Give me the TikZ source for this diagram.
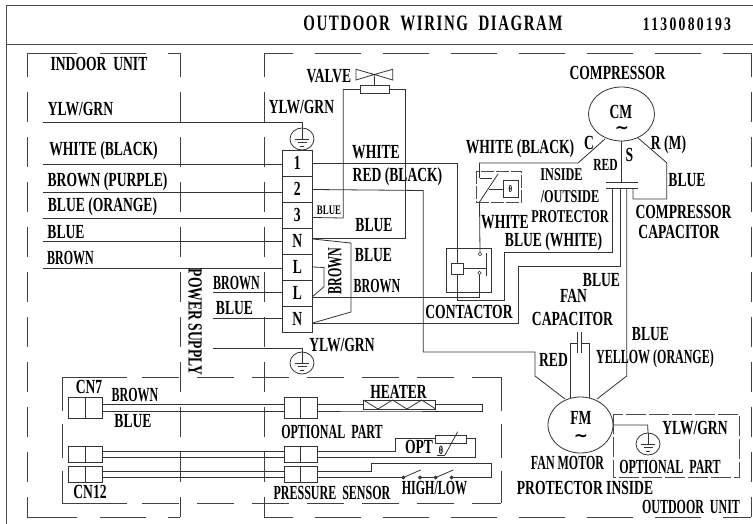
\documentclass[tikz,border=0pt]{standalone}
\usepackage{fontspec}
\setmainfont{Liberation Serif}[FakeStretch=0.68]
\newfontfamily\narrowfont{Liberation Serif}[FakeStretch=0.6]
\newfontfamily\titlefont{Liberation Serif}[FakeStretch=0.68,LetterSpace=7]
\newfontfamily\partfont{Liberation Serif}[FakeStretch=0.72,LetterSpace=12]
\newfontfamily\symfont{DejaVu Sans}
\usepackage{tikz}
\usetikzlibrary{shapes.geometric, positioning}
\tikzset{
  wire/.style={draw=black!80, line width=0.8pt},
  hdash/.style={draw=black!75, line width=0.8pt, dash pattern=on 46pt off 22pt, dash phase=17pt},
  idash/.style={draw=black!75, line width=0.8pt, dash pattern=on 50pt off 23pt on 46pt off 22pt on 50pt off 0pt},
  bdash/.style={draw=black!75, line width=0.8pt, dash pattern=on 65pt off 15pt on 37pt off 18pt on 37pt off 18pt on 37pt off 18pt on 37pt off 18pt on 37pt off 18pt on 37pt off 18pt on 40pt off 0pt},
  vdash/.style={draw=black!75, line width=0.8pt, dash pattern=on 30pt off 15pt, dash phase=6pt},
  wdash/.style={draw=black!75, line width=0.8pt, dash pattern=on 34pt off 13pt},
  lbl/.style={inner sep=0pt, font=\fontsize{20}{20}\selectfont\bfseries},
  lbln/.style={inner sep=0pt, font=\fontsize{20}{20}\selectfont\narrowfont\bfseries},
  swave/.style={inner sep=0pt, font=\fontsize{17}{17}\selectfont\symfont\bfseries},
  term/.style={draw=black!80, line width=0.8pt, minimum width=30.7pt, minimum height=26pt, inner sep=0pt, outer sep=0pt, font=\fontsize{20}{20}\selectfont\bfseries},
  conn/.style={draw=black!80, line width=0.8pt, inner sep=0pt, outer sep=0pt},
  motor/.style={draw=black!80, line width=0.8pt, ellipse, inner sep=0pt, outer sep=0pt},
  earth/.style={motor, minimum width=24pt, minimum height=22pt},
  dot/.style={draw=black!80, circle, minimum size=3.5pt, inner sep=0pt, outer sep=0pt}
}
\newcommand{\earthmark}[1]{
  \draw[wire] (#1.north) -- (#1.center);
  \draw[wire] ([shift={(-7,0)}]#1.center) -- ([shift={(7,0)}]#1.center);
  \draw[wire] ([shift={(-4.5,3.5)}]#1.center) -- ([shift={(4.5,3.5)}]#1.center);
  \draw[wire] ([shift={(-2,7)}]#1.center) -- ([shift={(2,7)}]#1.center);
}
\begin{document}
\begin{tikzpicture}[x=1pt,y=-1pt]
  \useasboundingbox (0,0) rectangle (753,524);
  \fill[white] (0,0) rectangle (753,524);

  % Frame and title
  \draw[black!70, line width=1pt] (6,524) -- (6,6) -- (753,6);
  \draw[black!70, line width=0.9pt] (6,44) -- (753,44);
  \node[lbl, font=\fontsize{22}{22}\selectfont\titlefont\bfseries] (title) at (433,23) {OUTDOOR\ \ WIRING\ \ DIAGRAM};
  \node[lbl, font=\fontsize{19}{19}\selectfont\partfont\bfseries] (partno) at (687,24) {1130080193};

  % Dashed unit boxes
  \draw[idash] (27,53) -- (180,53);
  \draw[idash] (27,517) -- (180,517);
  \draw[vdash] (27,53) -- (27,517);
  \draw[vdash] (180,53) -- (180,517);
  \draw[hdash] (264,53) -- (751,53);
  \draw[hdash] (264,517) -- (751,517);
  \draw[vdash] (264,53) -- (264,517);
  \draw[vdash] (751,53) -- (751,517);
  \draw[bdash] (62,377) -- (501,377);
  \draw[bdash] (62,503) -- (501,503);
  \draw[wdash] (62,377) -- (62,503);
  \draw[wdash] (501,377) -- (501,503);
  \draw[draw=black!70, dash pattern=on 20pt off 3pt, line width=0.8pt] (613,414) rectangle (739,477);

  % Terminal block
  \node[term] (t1) at (297.3,163) {1};
  \node[term, below=0pt of t1] (t2) {2};
  \node[term, below=0pt of t2] (t3) {3};
  \node[term, below=0pt of t3] (t4) {N};
  \node[term, below=0pt of t4] (t5) {L};
  \node[term, below=0pt of t5] (t6) {L};
  \node[term, below=0pt of t6] (t7) {N};

  % Earth symbols
  \node[earth] (e1) at (302,139) {};
  \node[earth] (e2) at (302,363) {};
  \node[earth] (e3) at (648,444) {};
  \earthmark{e1}
  \earthmark{e2}
  \earthmark{e3}

  % Motors
  \node[motor, minimum width=66pt, minimum height=54pt] (cm) at (621.5,114) {};
  \node[motor, minimum width=65pt, minimum height=56pt] (fm) at (580.5,425) {};
  \node[lbl] (cmt) at (621,112) {CM};
  \node[swave] (cms) at (622,130) {∼};
  \node[lbl] (fmt) at (581,418) {FM};
  \node[swave] (fms) at (581,438) {∼};

  % Left side wires
  \coordinate (a0) at (43,122);
  \coordinate (a1) at (43,164);
  \coordinate (a2) at (43,192.5);
  \coordinate (a3) at (43,218.5);
  \coordinate (a4) at (43,241.5);
  \coordinate (a5) at (43,268);
  \coordinate (b1) at (213,292.5);
  \coordinate (b2) at (213,318.5);
  \coordinate (b3) at (213,348);
  \draw[wire] (a0) -| (e1.north);
  \draw[wire] (a1) -- (a1 -| t1.west);
  \draw[wire] (a2) -- (a2 -| t2.west);
  \draw[wire] (a3) -- (a3 -| t3.west);
  \draw[wire] (a4) -- (a4 -| t4.west);
  \draw[wire] (a5) -- (a5 -| t5.west);
  \draw[wire] (b1) -- (b1 -| t6.west);
  \draw[wire] (b2) -- (b2 -| t7.west);
  \draw[wire] (b3) -| (e2.north);

  % Valve
  \node[conn, minimum width=29pt, minimum height=7.5pt] (vcoil) at (374.5,89.5) {};
  \coordinate (vmid) at (374.3,74.5);
  \draw[wire] (vmid) -- (vcoil.north);
  \draw[wire] (vmid) -- (356,69.3) -- (356,80) -- (vmid) -- (392.7,69.3) -- (392.7,80) -- cycle;
  \draw[wire] (vcoil.west) -- (343.3,89.5) -- (343.3,218) -- ([shift={(0,2.5)}]t3.east);
  \draw[wire] (vcoil.east) -- (405,89.5) -- (405,238) -- ([shift={(0,-3)}]t4.east);

  % Jumpers
  \draw[wire] ([shift={(0,-2)}]t4.east) -- (351,243) -- (351,312) -- ([shift={(0,4)}]t7.east);
  \draw[wire] (t5.east) -- (324,267.5) -- (324,286.7) -- ([shift={(0,3.5)}]t6.east);

  % Contactor
  \node[conn, minimum width=45pt, minimum height=44pt] (cbox) at (469,270) {};
  \node[conn, line width=1pt, minimum width=12pt, minimum height=11pt] (coil) at (457.8,268.5) {};
  \node[dot] (c1) at (480,254) {};
  \node[dot] (c2) at (479.5,273) {};
  \draw[wire] (486.7,253) -- (486.7,276);
  \draw[wire] (coil.east) -- (486.7,268.5);

  % Protector
  \draw[black!70, line width=0.8pt, dash pattern=on 13pt off 2pt] (476.7,171) rectangle (521.7,202);
  \node[conn, line width=1pt, minimum width=15pt, minimum height=17pt, font=\fontsize{10}{10}\selectfont\bfseries] (pth) at (510.5,189.5) {θ};
  \coordinate (psw) at (479.5,202);
  \draw[wire] (psw) -- (498,174);
  \draw[wire] (479.5,178) -- (492,178);
  \draw[wire] (pth.west) -- (489,189.5);
  \draw[wire] (c1.north) -- (psw);

  % Compressor capacitor
  \coordinate (cp1) at (606,182.7);
  \coordinate (cp2) at (638,182.7);
  \coordinate (cp3) at (606,189);
  \coordinate (cp4) at (638,189);
  \draw[wire, line width=1pt] (cp1) -- (cp2);
  \draw[wire, line width=1pt] (cp3) -- (cp4);

  % Compressor wires
  \draw[wire] (605,139) -- (578,163) -- (479.5,163) -- (479.5,178);
  \draw[wire] (cm.south) -- (621.5,182.7);
  \draw[wire] (638,138) -- (666.7,162.7) -- (666.7,199) -- (633,199) -- (633,189);

  % Long wires
  \draw[wire] (t1.east) -| (coil.north);
  \draw[wire] (coil.south) |- (504,300) -- (504,252) -- (612,252) -- (612,189);
  \draw[wire] ([shift={(0,4)}]t6.east) -- (479.5,297) -- (c2.south);
  \draw[wire] ([shift={(0,4)}]t7.east) -- (518,323) -- (518,266.7) -- (620.7,266.7) -- (620.7,189);
  \draw[wire] (626.7,189) -- (626.7,376) -- (597,399);
  \draw[wire] ([shift={(0,0.5)}]t2.east) -- (423.3,190.5) -- (423.3,352) -- (535,352) -- (535,376) -- (565,399);

  % Fan capacitor
  \draw[wire] (570,398) -- (570,343) -- (577.5,343);
  \draw[wire] (589,398) -- (589,343) -- (581.7,343);
  \draw[wire] (577.5,332) -- (577.5,353);
  \draw[wire] (581.7,332) -- (581.7,353);

  % Fan motor earth
  \draw[wire] (fm.east) -- (647.7,425) -- (e3.north);

  % Connector blocks
  \foreach \nm/\xx/\yy/\hh in {n1/85.3/407.5/21, n2/300.7/407.5/21, n3/85.3/454.7/16, n4/300.7/454.7/16, n5/85.3/474.7/16, n6/300.7/474.7/16} {
    \node[conn, minimum width=33.4pt, minimum height=\hh pt] (\nm) at (\xx,\yy) {};
    \draw[wire] (\nm.north) -- (\nm.south);
  }
  \draw[wire] (n1.east |- 0,404) -- (n2.west |- 0,404);
  \draw[wire] (n1.east |- 0,411.5) -- (n2.west |- 0,411.5);
  \draw[wire] (n3.east |- 0,451.7) -- (n4.west |- 0,451.7);
  \draw[wire] (n3.east |- 0,457.7) -- (n4.west |- 0,457.7);
  \draw[wire] (n5.east |- 0,471) -- (n6.west |- 0,471);
  \draw[wire] (n5.east |- 0,477.7) -- (n6.west |- 0,477.7);

  % Heater
  \node[conn, minimum width=72.4pt, minimum height=9pt] (heat) at (399.5,404.5) {};
  \draw[wire] (363.3,400) -- (378,409) -- (392.5,400) -- (407,409) -- (421.7,400) -- (435.7,409);
  \draw[wire] (n2.east |- 0,404) -- (363.3,404);
  \draw[wire] (n2.east |- 0,411) -- (363.3,411) -- (482.3,411) -- (482.3,404.3) -- (435.7,404.3);

  % Optional thermostat
  \node[conn, minimum width=30.3pt, minimum height=8.3pt] (opt) at (450.8,439.1) {};
  \draw[wire] (n4.east |- 0,451.7) -- (395.7,451.7) -- (395.7,438.3) -- (opt.west |- 0,438.3);
  \draw[wire] (opt.east |- 0,438.3) -- (475.7,438.3) -- (475.7,457.7) -- (n4.east |- 0,457.7);
  \draw[wire] (445,455) -- (457.7,431.7);
  \draw[wire] (436.7,455) -- (445,455);

  % Pressure switches
  \node[dot, fill=black!80] (s1) at (403.3,477.5) {};
  \node[dot, fill=black!80] (s2) at (420,477.5) {};
  \node[dot, fill=black!80] (s3) at (435.7,477.5) {};
  \node[dot, fill=black!80] (s4) at (451.7,477.5) {};
  \draw[wire] (n6.east |- 0,477.5) -- (s1);
  \draw[wire] (s2) -- (s3);
  \draw[wire] (s4) -- (491.7,477.5) -- (491.7,463.3) -- (371.7,463.3) -- (371.7,471) -- (n6.east |- 0,471);
  \draw[wire] (s1) -- (420.7,470);
  \draw[wire] (s3) -- (453.3,470);

  % Labels
  \node[lbl] (l1) at (99,64) {INDOOR\ \ UNIT};
  \node[lbl] (l2) at (80.5,109) {YLW/GRN};
  \node[lbl] (l3) at (103.5,151) {WHITE (BLACK)};
  \node[lbl] (l4) at (107.5,182) {BROWN (PURPLE)};
  \node[lbl] (l5) at (102.5,207) {BLUE (ORANGE)};
  \node[lbl] (l6) at (66,232) {BLUE};
  \node[lbln] (l7) at (70.5,258) {BROWN};
  \node[lbl] (l8) at (329,76) {VALVE};
  \node[lbl] (l9) at (301.5,107) {YLW/GRN};
  \node[lbl] (l10) at (376,152) {WHITE};
  \node[lbl] (l11) at (397.5,177) {RED (BLACK)};
  \node[lbl, font=\fontsize{13}{13}\selectfont\bfseries] (l12) at (329,210) {BLUE};
  \node[lbl] (l13) at (374,225) {BLUE};
  \node[lbl] (l14) at (373.5,255) {BLUE};
  \node[lbln, rotate=90] (l15) at (335,271) {BROWN};
  \node[lbln] (l16) at (377,286) {BROWN};
  \node[lbl, rotate=-90] (l17) at (195,322) {POWER SUPPLY};
  \node[lbln] (l18) at (236.5,283) {BROWN};
  \node[lbl] (l19) at (234.5,308) {BLUE};
  \node[lbl] (l20) at (342,345) {YLW/GRN};
  \node[lbl] (l21) at (469,312) {CONTACTOR};
  \node[lbl] (l22) at (573.5,296) {FAN};
  \node[lbl] (l23) at (572.5,319) {CAPACITOR};
  \node[lbl] (l24) at (601.5,280) {BLUE};
  \node[lbl] (l25) at (650.5,334) {BLUE};
  \node[lbl] (l26) at (553.5,360) {RED};
  \node[lbln] (l27) at (655,359) {YELLOW\ (ORANGE)};
  \node[lbl] (l28) at (617.5,73) {COMPRESSOR};
  \node[lbl] (l29) at (520,149) {WHITE (BLACK)};
  \node[lbl] (l30) at (589,143) {C};
  \node[lbl, font=\fontsize{17}{17}\selectfont\bfseries] (l31) at (605.5,165) {RED};
  \node[lbl] (l32) at (629.5,155) {S};
  \node[lbl] (l33) at (668.5,145) {R (M)};
  \node[lbl] (l34) at (687,180) {BLUE};
  \node[lbl, font=\fontsize{18}{18}\selectfont\bfseries] (l35) at (561.5,175) {INSIDE};
  \node[lbl, font=\fontsize{18}{18}\selectfont\bfseries] (l36) at (570,197) {/OUTSIDE};
  \node[lbl, font=\fontsize{18}{18}\selectfont\bfseries] (l37) at (570,217) {PROTECTOR};
  \node[lbl] (l38) at (505,222.5) {WHITE};
  \node[lbl] (l39) at (553.5,242) {BLUE (WHITE)};
  \node[lbl] (l40) at (683.5,212) {COMPRESSOR};
  \node[lbl] (l41) at (679,232) {CAPACITOR};
  \node[lbl] (l42) at (398.5,392) {HEATER};
  \node[lbln] (l43) at (332,432) {OPTIONAL\ \ PART};
  \node[lbl] (l44) at (419,447) {OPT};
  \node[inner sep=0pt, font=\fontsize{12}{12}\selectfont\bfseries] (l45) at (441,450) {θ};
  \node[lbln] (l46) at (332,493) {PRESSURE\ \ SENSOR};
  \node[lbln] (l47) at (434.5,488) {HIGH/LOW};
  \node[lbl] (l48) at (89,387) {CN7};
  \node[lbln] (l49) at (135,395) {BROWN};
  \node[lbl] (l50) at (133,421) {BLUE};
  \node[lbl] (l51) at (90,492) {CN12};
  \node[lbl] (l52) at (695,428) {YLW/GRN};
  \node[lbln] (l53) at (670,467) {OPTIONAL\ \ PART};
  \node[lbln] (l54) at (567.5,463) {FAN MOTOR};
  \node[lbl] (l55) at (585,488) {PROTECTOR INSIDE};
  \node[lbln] (l56) at (691,507) {OUTDOOR\ \ UNIT};
\end{tikzpicture}
\end{document}
